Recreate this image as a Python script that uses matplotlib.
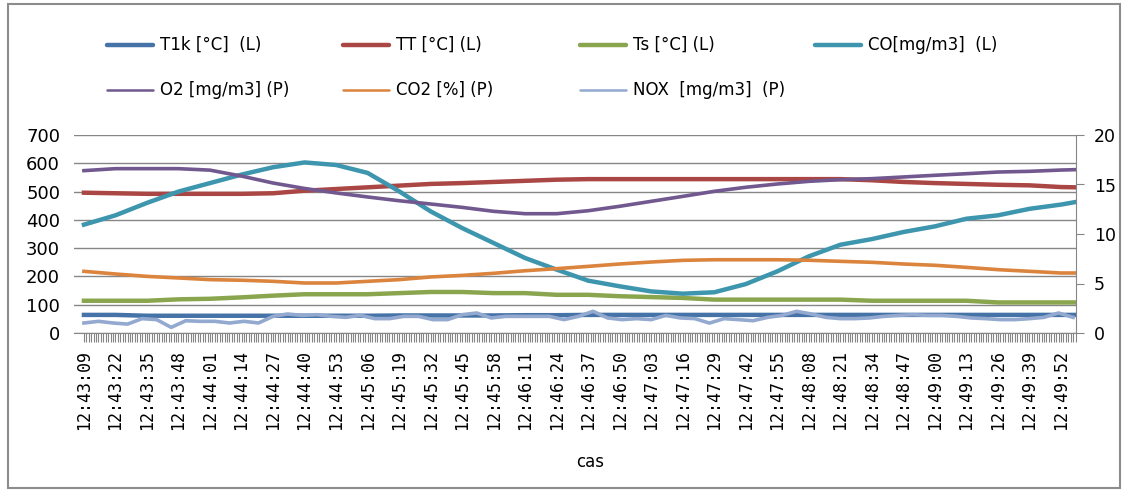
import matplotlib
matplotlib.use("Agg")
import matplotlib.pyplot as plt
from matplotlib.lines import Line2D
from matplotlib.patches import Rectangle

# seconds after 12:43:09
t = list(range(0, 404, 13)) + [409]
t_nox = list(range(0, 409, 6))
tick_pos = list(range(0, 404, 13))
time_labels = ['12:43:09', '12:43:22', '12:43:35', '12:43:48', '12:44:01', '12:44:14',
               '12:44:27', '12:44:40', '12:44:53', '12:45:06', '12:45:19', '12:45:32',
               '12:45:45', '12:45:58', '12:46:11', '12:46:24', '12:46:37', '12:46:50',
               '12:47:03', '12:47:16', '12:47:29', '12:47:42', '12:47:55', '12:48:08',
               '12:48:21', '12:48:34', '12:48:47', '12:49:00', '12:49:13', '12:49:26',
               '12:49:39', '12:49:52']

# levy osa (L)
T1k = [64, 64, 61, 61, 61, 61, 61, 61, 61, 61, 62, 62, 62, 62, 63, 63, 64,
       64, 64, 64, 64, 64, 64, 64, 64, 64, 64, 64, 64, 64, 64, 64, 64]
TT = [496, 494, 492, 492, 492, 492, 494, 503, 509, 515, 521, 527, 530, 534, 538, 542, 544,
      544, 544, 544, 544, 544, 544, 544, 544, 540, 534, 530, 527, 524, 522, 516, 515]
Ts = [114, 114, 114, 119, 121, 126, 132, 137, 137, 137, 141, 145, 145, 141, 141, 135, 135,
      130, 127, 124, 118, 118, 118, 118, 118, 114, 114, 114, 114, 108, 108, 108, 108]
CO = [383, 416, 460, 500, 530, 560, 586, 603, 594, 566, 501, 430, 371, 318, 265, 224, 185,
      165, 147, 139, 144, 173, 218, 271, 312, 332, 357, 377, 404, 416, 439, 454, 463]
# prava osa (P)
O2 = [16.4, 16.6, 16.6, 16.6, 16.45, 15.85, 15.15, 14.6, 14.15, 13.74, 13.36, 13.03, 12.69,
      12.29, 12.05, 12.05, 12.35, 12.8, 13.3, 13.8, 14.31, 14.72, 15.05, 15.32, 15.49, 15.59,
      15.76, 15.93, 16.09, 16.26, 16.33, 16.46, 16.5]
CO2 = [6.23, 5.96, 5.72, 5.56, 5.39, 5.33, 5.22, 5.05, 5.05, 5.22, 5.39, 5.66, 5.82, 6.03,
       6.29, 6.5, 6.73, 6.97, 7.17, 7.34, 7.4, 7.4, 7.4, 7.35, 7.24, 7.14, 6.97, 6.84, 6.63,
       6.4, 6.23, 6.06, 6.06]
NOX = [1.01, 1.18, 1.01, 0.9, 1.45, 1.35, 0.57, 1.24, 1.18, 1.18, 1.01, 1.18, 1.01, 1.68,
       1.92, 1.78, 1.85, 1.68, 1.58, 1.78, 1.45, 1.45, 1.68, 1.68, 1.35, 1.35, 1.85, 2.02,
       1.52, 1.68, 1.68, 1.68, 1.68, 1.35, 1.68, 2.19, 1.52, 1.35, 1.45, 1.35, 1.78, 1.52,
       1.45, 1.0, 1.45, 1.35, 1.24, 1.58, 1.78, 2.19, 1.92, 1.58, 1.45, 1.45, 1.52, 1.68,
       1.78, 1.85, 1.78, 1.78, 1.68, 1.52, 1.45, 1.35, 1.35, 1.45, 1.58, 2.02, 1.58]

c_t1k, c_tt, c_ts, c_co = '#4572A7', '#AA4643', '#89A54E', '#3D96AE'
c_o2, c_co2, c_nox = '#71588F', '#DB843D', '#93A9CF'
gray = '#868686'

W, H = 1125, 492
fig = plt.figure(figsize=(W / 100, H / 100), dpi=100)
ax = fig.add_axes([74 / W, 1 - 333 / H, (1076 - 74) / W, (333 - 135) / H])

ax.plot(t, T1k, color=c_t1k, lw=3.2)
ax.plot(t, TT, color=c_tt, lw=3.2)
ax.plot(t, Ts, color=c_ts, lw=3.2)
ax.plot(t, CO, color=c_co, lw=3.2)
ax.set_ylim(0, 700)
ax.set_xlim(-4.1, 409.2)
ax.set_yticks(range(0, 701, 100))
ax.yaxis.grid(True, color=gray, lw=1)
ax.set_axisbelow(True)
for s in ['left', 'top', 'right']:
    ax.spines[s].set_visible(False)
ax.spines['bottom'].set_color(gray)
ax.tick_params(axis='y', length=0, pad=10, labelsize=13)
ax.set_xticks(tick_pos)
ax.set_xticklabels(time_labels, rotation=90, fontfamily='DejaVu Sans Mono', fontsize=12)
ax.set_xticks(range(0, 410), minor=True)
ax.tick_params(axis='x', which='both', direction='out', length=6.5, width=0.8,
               color=gray, pad=6)

ax2 = ax.twinx()
ax2.plot(t, O2, color=c_o2, lw=2.6)
ax2.plot(t, CO2, color=c_co2, lw=2.6)
ax2.plot(t_nox, NOX, color=c_nox, lw=2.6)
ax2.set_ylim(0, 20)
ax2.set_yticks([0, 5, 10, 15, 20])
for s in ['left', 'top', 'bottom']:
    ax2.spines[s].set_visible(False)
ax2.spines['right'].set_color(gray)
ax2.tick_params(axis='y', direction='out', length=6, color=gray, pad=7, labelsize=12.5)

fig.text(590 / W, 1 - 462 / H, 'cas', ha='center', va='center', fontsize=12)

# legenda
entries = [('T1k [°C]  (L)', c_t1k, 3.2), ('TT [°C] (L)', c_tt, 3.2),
           ('Ts [°C] (L)', c_ts, 3.2), ('CO[mg/m3]  (L)', c_co, 3.2),
           ('O2 [mg/m3] (P)', c_o2, 1.8), ('CO2 [%] (P)', c_co2, 1.8),
           ('NOX  [mg/m3]  (P)', c_nox, 1.8)]
cols_x = [107, 343, 580, 815]
rows_y = [45, 90]
for i, (lab, col, lw) in enumerate(entries):
    x0 = cols_x[i % 4]
    y0 = 1 - rows_y[i // 4] / H
    fig.add_artist(Line2D([x0 / W, (x0 + 46) / W], [y0, y0], color=col, lw=lw,
                          solid_capstyle='round', transform=fig.transFigure))
    fig.text((x0 + 53) / W, y0, lab, ha='left', va='center', fontsize=12)

fig.add_artist(Rectangle((8 / W, 4 / H), (1120 - 8) / W, (488 - 4) / H, fill=False,
                         edgecolor='#8c8c8c', lw=1.5, transform=fig.transFigure))

fig.savefig('out.png', dpi=100)
